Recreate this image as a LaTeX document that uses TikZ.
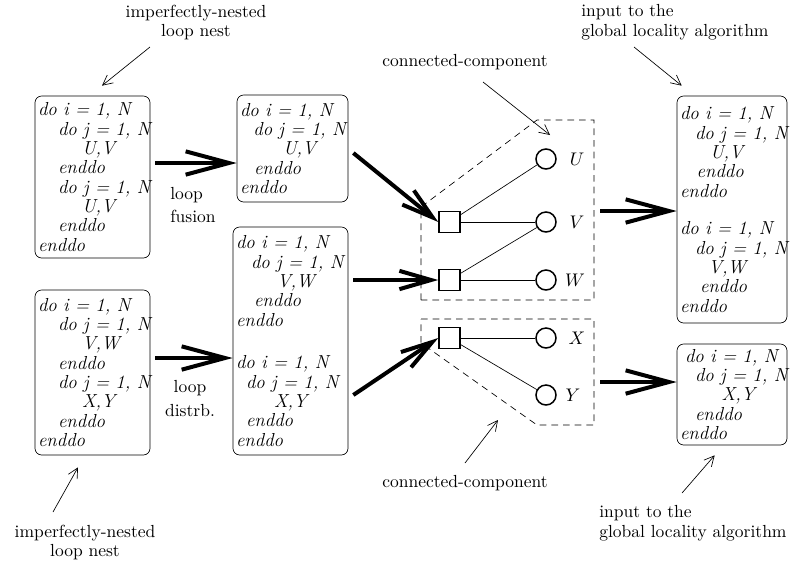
\documentclass[tikz,border=0pt]{standalone}
\usepackage{tikz}
\usetikzlibrary{arrows.meta,calc}

\newcommand{\ind}[1]{\hspace*{#1pt}}
\newcommand{\doi}{do~i~=~1,~N}
\newcommand{\doj}{do~j~=~1,~N}

\tikzset{
  codebox/.style={draw, rounded corners=4pt, align=left, inner xsep=1.8pt, inner ysep=0pt,
    font=\itshape\fontsize{11.3}{11.6}\selectfont},
  note/.style={font=\fontsize{10.5}{11.7}\selectfont, inner sep=0pt},
  bigarrow/.style={line width=2.4pt, -{Straight Barb[length=26pt,width=14pt]}},
  midarrow/.style={line width=2.4pt, -{Straight Barb[length=19pt,width=11pt]}},
  thinarrow/.style={thin, -{Straight Barb[length=6pt,width=6pt]}},
  stmt/.style={draw, line width=0.9pt, minimum size=12.6pt, inner sep=0pt},
  var/.style={draw, circle, line width=0.9pt, minimum size=12pt, inner sep=0pt},
  varname/.style={font=\fontsize{11.3}{12}\selectfont, inner sep=0pt},
}

\begin{document}
\begin{tikzpicture}[x=0.6pt,y=-0.6pt]
    \useasboundingbox (0,0) rectangle (795,565);

    % original loop nests
    \node[codebox, text width=65.4pt, minimum height=97.2pt] (A) at (92.5,177) {%
        \doi\\ \ind{12}\doj\\ \ind{26.4}U,V\\ \ind{12}enddo\\
        \ind{12}\doj\\ \ind{26.4}U,V\\ \ind{12}enddo\\ enddo};
    \node[codebox, text width=65.4pt, minimum height=99pt] (B) at (92.5,372.5) {%
        \doi\\ \ind{12}\doj\\ \ind{26.4}V,W\\ \ind{12}enddo\\
        \ind{12}\doj\\ \ind{26.4}X,Y\\ \ind{12}enddo\\ enddo};

    % after fusion / distribution
    \node[codebox, text width=63pt, minimum height=64.2pt] (C) at (292.5,148.5) {%
        \doi\\ \ind{8}\doj\\ \ind{25.8}U,V\\ \ind{8.4}enddo\\ enddo};
    \node[codebox, text width=65.4pt, minimum height=136.8pt] (D) at (290.5,341) {%
        \doi\\ \ind{9}\doj\\ \ind{24.6}V,W\\ \ind{10.8}enddo\\ enddo\\[14pt]
        \doi\\ \ind{6}\doj\\ \ind{22.8}X,Y\\ \ind{6}enddo\\ enddo};

    % input to the global algorithm
    \node[codebox, text width=62.4pt, minimum height=136.2pt] (E) at (732,209.5) {%
        \doi\\ \ind{9}\doj\\ \ind{18}U,V\\ \ind{10}enddo\\ enddo\\[11pt]
        \doi\\ \ind{9}\doj\\ \ind{17}V,W\\ \ind{12}enddo\\ enddo};
    \node[codebox, text width=62.4pt, minimum height=60.6pt] (F) at (732,394.5) {%
        \ind{3}\doi\\ \ind{9}\doj\\ \ind{25}X,Y\\ \ind{9}enddo\\ enddo};

    % graph
    \node[stmt] (sq1) at (449.5,222) {};
    \node[stmt] (sq2) at (449.5,280) {};
    \node[stmt] (sq3) at (449.5,338) {};
    \node[var] (cU) at (546,159) {};
    \node[var] (cV) at (546,222) {};
    \node[var] (cW) at (546,280) {};
    \node[var] (cX) at (546,338) {};
    \node[var] (cY) at (546,395) {};
    \node[varname] (lU) at (577,159) {$U$};
    \node[varname] (lV) at (577,222) {$V$};
    \node[varname] (lW) at (575,280) {$W$};
    \node[varname] (lX) at (577,338) {$X$};
    \node[varname] (lY) at (573,395) {$Y$};
    \draw (sq1) -- (cU);
    \draw (sq1) -- (cV);
    \draw (sq2) -- (cV);
    \draw (sq2) -- (cW);
    \draw (sq3) -- (cX);
    \draw (sq3) -- (cY);

    % connected components
    \coordinate (cc1sw) at (421,300);
    \coordinate (cc1w) at (421,207);
    \coordinate (cc1n) at (537,120);
    \coordinate (cc1ne) at (594,120);
    \coordinate (cc1se) at (594,300);
    \coordinate (cc1out) at (594,211);
    \draw[dash pattern=on 4pt off 3pt] (cc1sw) -- (cc1w) -- (cc1n) -- (cc1ne) -- (cc1se) -- cycle;
    \coordinate (cc2nw) at (421,319);
    \coordinate (cc2ne) at (594,319);
    \coordinate (cc2se) at (594,425);
    \coordinate (cc2s) at (537,425);
    \coordinate (cc2w) at (421,343);
    \coordinate (cc2out) at (594,382);
    \draw[dash pattern=on 4pt off 3pt] (cc2nw) -- (cc2ne) -- (cc2se) -- (cc2s) -- (cc2w) -- cycle;

    % transformations
    \draw[bigarrow] ($(A.east)+(5,-14)$) -- ($(C.west)+(0,14.5)$);
    \draw[bigarrow] ($(B.east)+(5,-14.5)$) -- ($(D.west)+(0,17)$);
    \node[note, anchor=west, align=left] (fusionLbl) at (170,205) {loop\\[2.5pt]fusion};
    \node[note, align=center] (distrbLbl) at (190,398.5) {loop\\[2.5pt]distrb.};
    \draw[midarrow] ($(C.east)+(5,4.5)$) -- (sq1.west);
    \draw[midarrow] ($(D.east)+(5,-61)$) -- (sq2.west);
    \draw[midarrow] ($(D.east)+(5,54)$) -- (sq3.west);
    \draw[bigarrow] ([xshift=3.6pt]cc1out) -- (cc1out -| E.west);
    \draw[bigarrow] ([xshift=3.6pt]cc2out) -- (cc2out -| F.west);

    % notes
    \node[note, align=center] (nestTop) at (196,22.5) {imperfectly-nested\\loop nest};
    \node[note, align=center] (nestBot) at (85,542.5) {imperfectly-nested\\loop nest};
    \node[note, anchor=west] (ccTop) at (382,62) {connected-component};
    \node[note, anchor=west] (ccBot) at (382,483) {connected-component};
    \node[note, anchor=west, align=left] (inTop) at (581,22) {input to the\\global locality algorithm};
    \node[note, anchor=west, align=left] (inBot) at (599,523) {input to the\\global locality algorithm};
    \draw[thinarrow] ($(nestTop)+(-46,24.5)$) -- ($(A.north)+(9.5,-10)$);
    \draw[thinarrow] ($(nestBot)+(-32,-30.5)$) -- ($(B.south)+(-14.5,12)$);
    \draw[thinarrow] ($(ccTop.west)+(101,20)$) -- ($(cc1ne)+(-44,15)$);
    \draw[thinarrow] ($(ccBot.west)+(83,-20)$) -- ($(cc2s)+(-39,-5)$);
    \draw[thinarrow] ($(inTop.west)+(53,25)$) -- ($(E.north west)+(5,-10)$);
    \draw[thinarrow] ($(inBot.west)+(83,-30)$) -- ($(F.south west)+(38,10)$);
\end{tikzpicture}
\end{document}
